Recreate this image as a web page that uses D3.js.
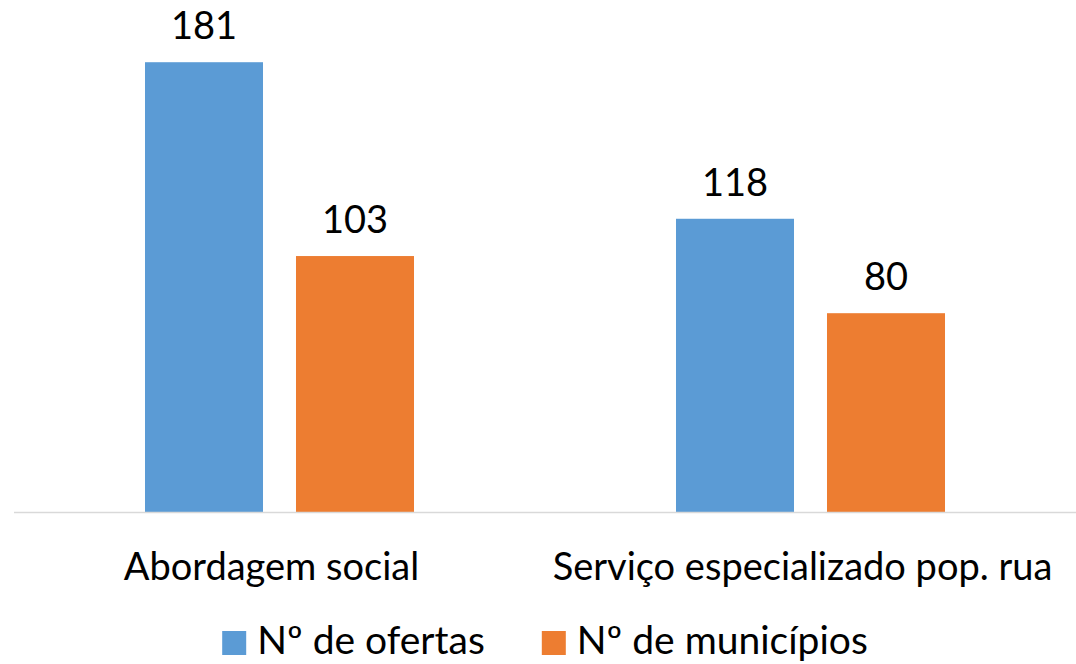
<!DOCTYPE html>
<html>
<head>
<meta charset="utf-8">
<script src="https://cdn.jsdelivr.net/npm/d3@7"></script>
<style>
  body { margin: 0; background: #fff; }
  text { font-family: Lato, "Open Sans", sans-serif; fill: #000; }
</style>
</head>
<body>
<div id="chart"></div>
<script>
(function () {

	'use strict';

	var categories = ['Abordagem social', 'Serviço especializado pop. rua'];
	var series = ['Nº de ofertas', 'Nº de municípios'];
	var ofertas = [181, 118];
	var municipios = [103, 80];
	var colors = ['#5B9BD5', '#ED7D31'];

	var width = 1076;
	var height = 664;
	var baseY = 512;

	var rows = categories.map(function (c, i) {
		return { category: c, values: [ofertas[i], municipios[i]] };
	});

	var svg = d3.select('#chart')
		.append('svg')
		.attr('width', width)
		.attr('height', height);

	var x0 = d3.scaleBand()
		.domain(categories)
		.range([14, width])
		.paddingInner(0.4934)
		.paddingOuter(0.2467);

	var x1 = d3.scaleBand()
		.domain(series)
		.range([0, x0.bandwidth()])
		.paddingInner(0.2185);

	var y = d3.scaleLinear()
		.domain([0, 200])
		.range([baseY, 15]);

	var groups = svg.selectAll('g.group')
		.data(rows)
		.enter().append('g')
		.attr('class', 'group')
		.attr('transform', function (d) { return 'translate(' + x0(d.category) + ',0)'; });

	var cells = groups.selectAll('g.cell')
		.data(function (d) {
			return d.values.map(function (v, j) { return { s: series[j], v: v, j: j }; });
		})
		.enter().append('g')
		.attr('class', 'cell');

	cells.append('rect')
		.attr('x', function (d) { return x1(d.s); })
		.attr('y', function (d) { return y(d.v); })
		.attr('width', x1.bandwidth())
		.attr('height', function (d) { return y(0) - y(d.v); })
		.attr('fill', function (d) { return colors[d.j]; });

	cells.append('text')
		.attr('x', function (d) { return x1(d.s) + x1.bandwidth() / 2; })
		.attr('y', function (d) { return y(d.v) - 23; })
		.attr('text-anchor', 'middle')
		.style('font-size', '38px')
		.text(function (d) { return d.v; });

	// baseline
	svg.append('line')
		.attr('x1', 14)
		.attr('x2', width)
		.attr('y1', baseY + 0.5)
		.attr('y2', baseY + 0.5)
		.attr('stroke', '#D9D9D9')
		.attr('stroke-width', 1.5);

	// category labels
	svg.selectAll('text.cat')
		.data(categories)
		.enter().append('text')
		.attr('class', 'cat')
		.attr('x', function (d) { return x0(d) + x0.bandwidth() / 2 - 8; })
		.attr('y', 580)
		.attr('text-anchor', 'middle')
		.style('font-size', '38px')
		.text(function (d) { return d; });

	// legend
	var legend = svg.append('g');
	var items = legend.selectAll('g.item')
		.data(series)
		.enter().append('g')
		.attr('class', 'item');

	items.append('rect')
		.attr('width', 24)
		.attr('height', 24)
		.attr('y', 631)
		.attr('fill', function (d, i) { return colors[i]; });

	items.append('text')
		.attr('x', 35)
		.attr('y', 654)
		.style('font-size', '39px')
		.text(function (d) { return d; });

	var offset = 0;
	var widths = [];
	items.each(function () {
		widths.push(this.getBBox().width);
	});
	var total = d3.sum(widths) + 57 * (widths.length - 1);
	var start = 545 - total / 2;
	items.attr('transform', function (d, i) {
		var t = 'translate(' + (start + offset) + ',0)';
		offset += widths[i] + 57;
		return t;
	});

})();
</script>
</body>
</html>
